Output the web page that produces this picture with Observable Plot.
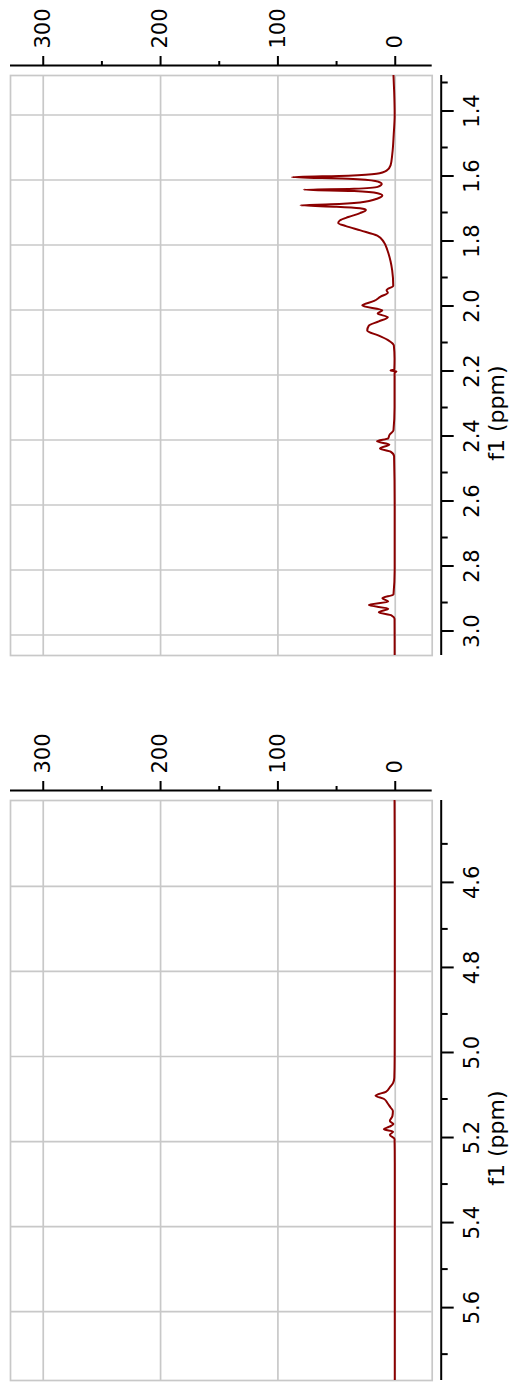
<!DOCTYPE html>
<html><head><meta charset="utf-8">
<script src="https://cdn.jsdelivr.net/npm/d3@7"></script>
<script src="https://cdn.jsdelivr.net/npm/@observablehq/plot@0.6"></script>
<style>
html,body{margin:0;padding:0;background:#fff;}
#chart{width:516px;}
#chart svg{display:block;}
</style></head><body><div id="chart"></div>
<script>
const axisLabel = "f1 (ppm)";
const intensityTicks = [0, 100, 200, 300];
const intensityMinor = [50, 150, 250];
const intensityDomain = [327.9, -31.5];

const topPpmDomain = [1.2785, 3.063];
const topPpmTicks = [1.4, 1.6, 1.8, 2.0, 2.2, 2.4, 2.6, 2.8, 3.0];
const topPpmMinor = [1.3, 1.5, 1.7, 1.9, 2.1, 2.3, 2.5, 2.7, 2.9];
const topShift = [1.2785,1.33,1.40,1.46,1.52,1.555,1.571,1.581,1.587,1.5915,1.596,1.603,1.612,1.621,1.627,1.630,1.634,1.641,1.648,1.657,1.669,1.675,1.678,1.682,1.687,1.692,1.702,1.714,1.724,1.732,1.742,1.755,1.771,1.791,1.817,1.85,1.878,1.925,1.939,1.947,1.959,1.972,1.986,2.001,2.011,2.022,2.035,2.048,2.063,2.079,2.094,2.109,2.15,2.183,2.186,2.189,2.193,2.30,2.37,2.385,2.395,2.404,2.414,2.426,2.436,2.45,2.6,2.8,2.875,2.887,2.897,2.908,2.919,2.930,2.940,2.95,3.063];
const topIntensity = [1.5,0.9,0.5,1.3,2.5,4.0,7.4,16,40,88,40,17,11.5,15,35,78,35,15,11,15,30,55,80.7,50,30,25,30,40,47,48.6,42,29.6,15.3,9.7,6.6,4,2.6,1.7,7.4,6.3,12.5,18,28.1,11,15,6.3,14,22.5,23.9,14,5.5,1.2,0.6,0.8,4,-1,0.6,0.6,1.5,5,6,15.5,5,13,4,1,0.5,0.5,1.5,11,6,22.5,6,14,3,0.6,0.5];

const bottomPpmDomain = [4.398, 5.762];
const bottomPpmTicks = [4.6, 4.8, 5.0, 5.2, 5.4, 5.6];
const bottomPpmMinor = [4.5, 4.7, 4.9, 5.1, 5.3, 5.5, 5.7];
const bottomShift = [4.398,4.6,4.8,5.0,5.05,5.062,5.072,5.083,5.092,5.100,5.11,5.12,5.128,5.140,5.152,5.159,5.165,5.171,5.177,5.184,5.194,5.25,5.762];
const bottomIntensity = [0.6,0.4,0.4,0.5,0.8,1.8,4.5,8,16.8,9.5,6.5,4,2,2.4,4.6,1.5,5,9.7,1.8,4.6,0.6,0.4,0.4];

const gridColor = "#c8c8c8";
const lineColor = "#8b0000";

function panel(shift, intensity, yDomain, yTicks, yMinor, height, marginBottom) {
  const data = shift.map((p, i) => ({ppm: p, intensity: intensity[i]}));
  return Plot.plot({
    width: 516, height, marginTop: 75, marginBottom, marginLeft: 10, marginRight: 84.3,
    style: {fontFamily: "DejaVu Sans", fontSize: "21px", color: "black", background: "white", overflow: "visible"},
    x: {domain: intensityDomain, axis: null},
    y: {domain: yDomain, reverse: true, axis: null},
    marks: [
      Plot.gridX(intensityTicks, {stroke: gridColor, strokeOpacity: 1, strokeWidth: 1.7}),
      Plot.gridY(yTicks, {stroke: gridColor, strokeOpacity: 1, strokeWidth: 1.7}),
      Plot.frame({stroke: gridColor, strokeWidth: 1.7}),
      Plot.line(data, {x: "intensity", y: "ppm", stroke: lineColor, strokeWidth: 2, curve: "monotone-y", clip: true}),
      Plot.ruleY([yDomain[0]], {dy: -10, strokeWidth: 2, stroke: "black"}),
      Plot.axisX(intensityTicks, {anchor: "top", dy: -10, tickSize: 10, tickPadding: 7, tickRotate: -90, tickFormat: d3.format("d"), strokeWidth: 2, label: null}),
      Plot.axisX(intensityMinor, {anchor: "top", dy: -10, tickSize: 5, tickFormat: () => "", strokeWidth: 2, label: null}),
      Plot.ruleX([intensityDomain[1]], {dx: 9, strokeWidth: 2, stroke: "black"}),
      Plot.axisY(yTicks, {anchor: "right", dx: 9, dy: -4, tickSize: 12, tickPadding: 11, tickRotate: -90, textAnchor: "middle", lineAnchor: "top", tickFormat: d3.format(".1f"), strokeWidth: 2, label: null}),
      Plot.axisY(yMinor, {anchor: "right", dx: 9, tickSize: 6, tickFormat: () => "", strokeWidth: 2, label: null}),
      Plot.text([axisLabel], {text: d => d, frameAnchor: "right", dx: 56, rotate: -90, lineAnchor: "top", fontSize: 22})
    ]
  });
}

const chart = document.getElementById("chart");
chart.append(panel(topShift, topIntensity, topPpmDomain, topPpmTicks, topPpmMinor, 725, 70));
chart.append(panel(bottomShift, bottomIntensity, bottomPpmDomain, bottomPpmTicks, bottomPpmMinor, 662, 7));
</script></body></html>
